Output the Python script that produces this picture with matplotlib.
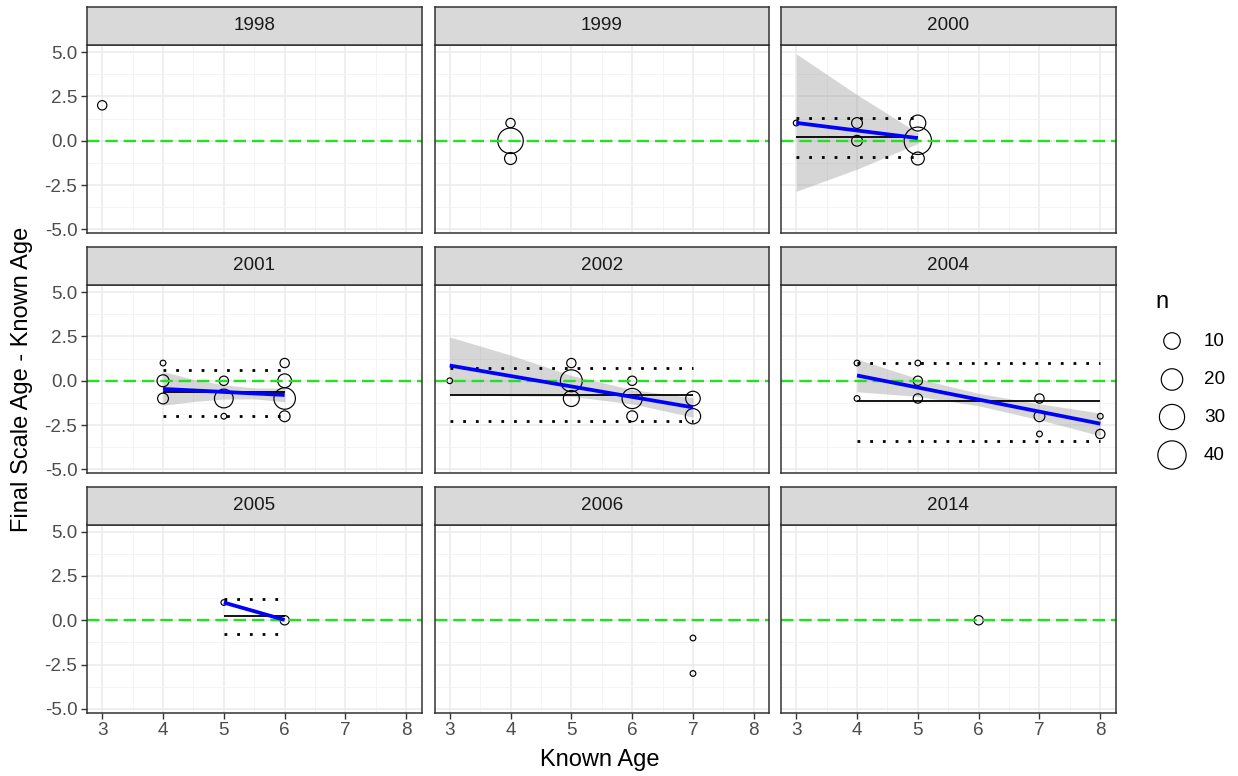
import numpy as np
import matplotlib
matplotlib.use("Agg")
import matplotlib.pyplot as plt

plt.rcParams['font.family'] = ['Liberation Sans', 'DejaVu Sans']
plt.rcParams['lines.scale_dashes'] = False

# ---------------- data ----------------
panels = ['1998', '1999', '2000', '2001', '2002', '2004', '2005', '2006', '2014']

pt_year = ['1998',
           '1999', '1999', '1999',
           '2000', '2000', '2000', '2000', '2000', '2000',
           '2001', '2001', '2001', '2001', '2001', '2001', '2001', '2001', '2001', '2001',
           '2002', '2002', '2002', '2002', '2002', '2002', '2002', '2002', '2002',
           '2004', '2004', '2004', '2004', '2004', '2004', '2004', '2004', '2004', '2004',
           '2005', '2005',
           '2006', '2006',
           '2014']
pt_x = [3,
        4, 4, 4,
        3, 4, 4, 5, 5, 5,
        4, 4, 4, 5, 5, 5, 6, 6, 6, 6,
        3, 5, 5, 5, 6, 6, 6, 7, 7,
        4, 4, 5, 5, 5, 7, 7, 7, 8, 8,
        5, 6,
        7, 7,
        6]
pt_y = [2,
        1, 0, -1,
        1, 1, 0, 1, 0, -1,
        1, 0, -1, 0, -1, -2, 1, 0, -1, -2,
        0, 1, 0, -1, 0, -1, -2, -1, -2,
        1, -1, 1, 0, -1, -1, -2, -3, -2, -3,
        1, 0,
        -1, -3,
        0]
pt_n = [2,
        2, 31, 4,
        1, 3, 3, 9, 37, 5,
        1, 4, 3, 2, 14, 1, 2, 6, 20, 3,
        1, 2, 21, 9, 2, 17, 3, 7, 8,
        1, 1, 1, 2, 2, 2, 3, 1, 1, 2,
        1, 2,
        1, 1,
        2]

# weighted linear fit lines (blue)
fit_year = ['2000', '2001', '2002', '2004', '2005']
fit_x_start = [3, 4, 3, 4, 5]
fit_x_end = [5, 6, 7, 8, 6]
fit_y_start = [1.01, -0.46, 0.86, 0.30, 1.00]
fit_y_end = [0.15, -0.80, -1.50, -2.42, 0.02]
# mean line (black solid) and +/- limits (black dotted)
mean_y = [0.19, -0.65, -0.78, -1.12, 0.25]
upper_lim = [1.27, 0.60, 0.71, 1.03, 1.22]
lower_lim = [-0.92, -2.00, -2.25, -3.39, -0.75]

# confidence ribbons of the fits
band_year = ['2000'] * 3 + ['2001'] * 5 + ['2002'] * 5 + ['2004'] * 5
band_x = [3, 4, 5,
          4, 4.5, 5, 5.5, 6,
          3, 4, 5, 6, 7,
          4, 5, 6, 7, 8]
band_upper = [4.90, 2.60, 0.45,
              0.52, 0.08, -0.23, -0.40, -0.42,
              2.47, 1.45, 0.30, -0.50, -0.95,
              1.22, 0.12, -0.71, -1.30, -1.82]
band_lower = [-2.85, -1.60, -0.15,
              -1.38, -1.17, -1.03, -1.02, -1.18,
              -0.73, -0.85, -0.88, -1.30, -2.05,
              -0.62, -0.88, -1.41, -2.20, -3.10]

legend_n = [10, 20, 30, 40]
x_ticks = [3, 4, 5, 6, 7, 8]
y_ticks = [-5.0, -2.5, 0.0, 2.5, 5.0]
y_ticklabels = ['-5.0', '-2.5', '0.0', '2.5', '5.0']

# ---------------- styling helpers ----------------
W, H = 1238, 776
DPI = 100
PX = 72.0 / DPI  # points per pixel
N_MIN, N_MAX = 1, 45


def marker_size_pts(n):
    n = np.asarray(n, dtype=float)
    gg = 1 + 5 * np.sqrt((n - N_MIN) / (N_MAX - N_MIN))
    d_px = 4.8 * gg + 0.9
    return (d_px * PX) ** 2


fig = plt.figure(figsize=(W / DPI, H / DPI), dpi=DPI)
fig.patch.set_facecolor('white')

col_left = [87, 434.5, 781]
panel_w = 334.5
row_top = [45, 285, 524.5]
panel_h = 188
strip_h = 38

border_col = '#333333'
tick_col = '#4D4D4D'
FS_TICK = 13.6
FS_TITLE = 17.0


def fig_rect(x, y_top, w, h):
    return [x / W, 1 - (y_top + h) / H, w / W, h / H]


pt_year_a = np.array(pt_year)
pt_x_a = np.array(pt_x, float)
pt_y_a = np.array(pt_y, float)
pt_n_a = np.array(pt_n, float)
band_year_a = np.array(band_year)
band_x_a = np.array(band_x, float)
band_up_a = np.array(band_upper, float)
band_lo_a = np.array(band_lower, float)

DOT = (0, (2.0, 7.15))

for i, yr in enumerate(panels):
    r, c = divmod(i, 3)
    ax = fig.add_axes(fig_rect(col_left[c], row_top[r], panel_w, panel_h))
    ax.set_xlim(2.75, 8.25)
    ax.set_ylim(-5.2, 5.4)
    ax.set_facecolor('white')
    # grid
    ax.set_xticks(x_ticks)
    ax.set_yticks(y_ticks)
    ax.set_xticks([3.5, 4.5, 5.5, 6.5, 7.5], minor=True)
    ax.set_yticks([-3.75, -1.25, 1.25, 3.75], minor=True)
    ax.grid(which='major', color='#EBEBEB', lw=1.1, zorder=0)
    ax.grid(which='minor', color='#F2F2F2', lw=0.6, zorder=0)
    ax.set_axisbelow(True)
    for s in ax.spines.values():
        s.set_color(border_col)
        s.set_linewidth(1.1)
        s.set_zorder(10)
    ax.tick_params(which='minor', length=0)
    ax.tick_params(which='major', length=4.5, width=1.0, color=border_col,
                   labelsize=FS_TICK, labelcolor=tick_col, pad=2.5)
    if r == 2:
        ax.set_xticklabels([str(v) for v in x_ticks])
    else:
        ax.tick_params(axis='x', which='major', length=0, labelbottom=False)
    if c == 0:
        ax.set_yticklabels(y_ticklabels)
    else:
        ax.tick_params(axis='y', which='major', length=0, labelleft=False)

    # ribbon
    m = band_year_a == yr
    if m.any():
        ax.fill_between(band_x_a[m], band_lo_a[m], band_up_a[m],
                        color='#999999', alpha=0.4, lw=0, zorder=2)

    # points
    m = pt_year_a == yr
    ax.scatter(pt_x_a[m], pt_y_a[m], s=marker_size_pts(pt_n_a[m]),
               facecolors='none', edgecolors='black', linewidths=0.85, zorder=3)

    # summary lines
    if yr in fit_year:
        k = fit_year.index(yr)
        xs = [fit_x_start[k], fit_x_end[k]]
        ax.plot(xs, [upper_lim[k]] * 2, color='black', lw=2.0,
                linestyle=DOT, dash_capstyle='butt', zorder=4)
        ax.plot(xs, [lower_lim[k]] * 2, color='black', lw=2.0,
                linestyle=DOT, dash_capstyle='butt', zorder=4)
        ax.plot(xs, [mean_y[k]] * 2, color='black', lw=1.3, zorder=4,
                solid_capstyle='butt')

    # zero reference line
    ax.axhline(0, color='#22E022', lw=1.7, linestyle=(0, (8.9, 4.3)), zorder=5)

    if yr in fit_year:
        k = fit_year.index(yr)
        ax.plot([fit_x_start[k], fit_x_end[k]], [fit_y_start[k], fit_y_end[k]],
                color='#0000FF', lw=2.7, zorder=6, solid_capstyle='butt')

    # strip
    sax = fig.add_axes(fig_rect(col_left[c], row_top[r] - strip_h, panel_w, strip_h))
    sax.set_facecolor('#D9D9D9')
    sax.set_xticks([])
    sax.set_yticks([])
    for s in sax.spines.values():
        s.set_color(border_col)
        s.set_linewidth(1.1)
    sax.text(0.5, 0.5, yr, ha='center', va='center', fontsize=FS_TICK,
             color='#1A1A1A', transform=sax.transAxes)

# axis titles
fig.text(600 / W, 1 - 760 / H, 'Known Age', ha='center', va='center',
         fontsize=FS_TITLE, color='black')
fig.text(22 / W, 1 - 379 / H, 'Final Scale Age - Known Age', ha='center',
         va='center', rotation=90, fontsize=FS_TITLE, color='black')

# legend (size of n)
lax = fig.add_axes([0, 0, 1, 1])
lax.set_xlim(0, W)
lax.set_ylim(H, 0)
lax.axis('off')
lax.patch.set_alpha(0)
lax.text(1155, 302, 'n', ha='left', va='center', fontsize=FS_TITLE, color='black')
leg_y = [341, 379.5, 417, 455]
lax.scatter([1172] * len(legend_n), leg_y, s=marker_size_pts(legend_n),
            facecolors='none', edgecolors='black', linewidths=0.85)
for yv, nv in zip(leg_y, legend_n):
    lax.text(1204, yv, str(nv), ha='left', va='center', fontsize=FS_TICK,
             color='black')

fig.savefig('out.png', dpi=DPI)
